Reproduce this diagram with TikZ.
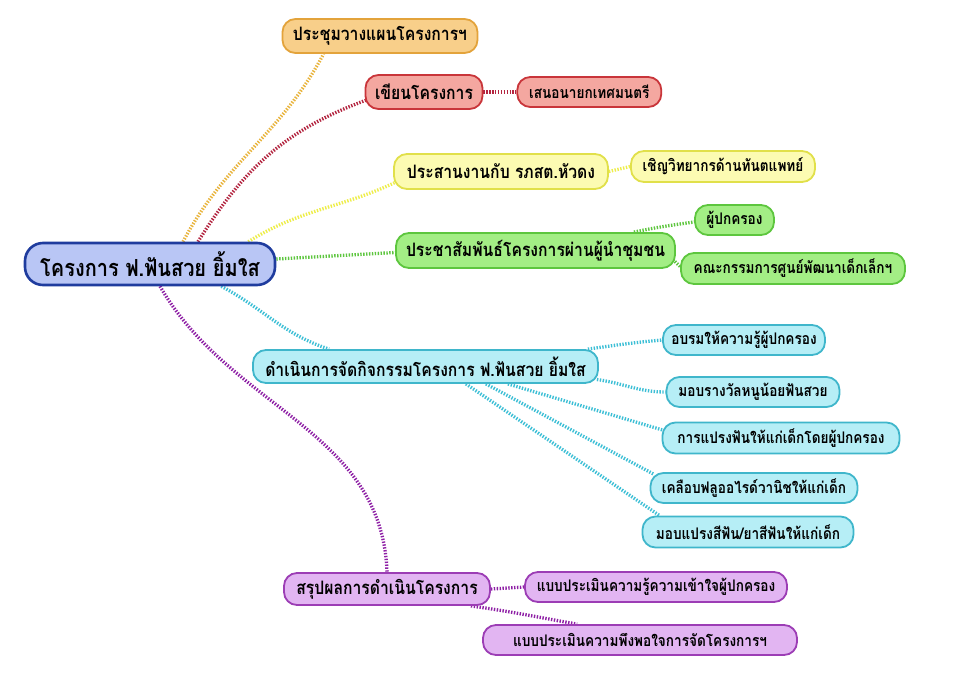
\documentclass[tikz,border=0pt]{standalone}
\usepackage{fontspec}
\setmainfont[Script=Thai,FakeStretch=0.85]{Loma}
\usetikzlibrary{positioning,calc,backgrounds}

\definecolor{bluefill}{HTML}{B9C6F5}\definecolor{blueline}{HTML}{1F3C9E}
\definecolor{orngfill}{HTML}{F8CF8A}\definecolor{orngline}{HTML}{E3A33B}\definecolor{orngdot}{HTML}{E9B43C}
\definecolor{redfill}{HTML}{F4A7A0}\definecolor{redline}{HTML}{C9353A}\definecolor{reddot}{HTML}{B3243F}
\definecolor{yelfill}{HTML}{FCFBB2}\definecolor{yelline}{HTML}{E1E04A}\definecolor{yeldot}{HTML}{EEEE4A}
\definecolor{grnfill}{HTML}{A3EE85}\definecolor{grnline}{HTML}{5DC63E}\definecolor{grndot}{HTML}{5DC63E}
\definecolor{cyanfill}{HTML}{B6EEF6}\definecolor{cyanline}{HTML}{3FB6CB}\definecolor{cyandot}{HTML}{3CBFD6}
\definecolor{purpfill}{HTML}{E2B5F2}\definecolor{purpline}{HTML}{9C3DB5}\definecolor{purpdot}{HTML}{8E1FA5}

\begin{document}
\begin{tikzpicture}[x=1pt,y=1pt,
  every node/.append style={draw,rounded corners=13pt,line width=1.8pt,inner sep=0pt},
  big/.style={minimum height=34pt,font=\bfseries\fontsize{18.5}{20}\selectfont},
  small/.style={minimum height=30pt,font=\bfseries\fontsize{16}{18}\selectfont},
  tone/.style={fill=#1fill,draw=#1line},
  link/.style={line width=3.3pt,dash pattern=on 1.4pt off 1.5pt,draw=#1dot}]
\useasboundingbox (0,0) rectangle (960,-675);

\node[tone=blue,line width=2.6pt,rounded corners=18pt,minimum width=250pt,minimum height=42pt,
  font=\bfseries\fontsize{23.5}{26}\selectfont] (root) at (150,-264) {โครงการ ฟ.ฟันสวย ยิ้มใส};

\node[big,tone=orng,minimum width=195pt] (plan) at (380,-36) {ประชุมวางแผนโครงการฯ};
\node[big,tone=red,minimum width=117pt] (write) at (424,-92) {เขียนโครงการ};
\node[small,tone=red,minimum width=144pt,right=33pt of write] (propose) {เสนอนายกเทศมนตรี};
\node[big,tone=yel,minimum width=214pt,minimum height=35pt] (coord) at (501,-171.5) {ประสานงานกับ รภสต.หัวดง};
\node[small,tone=yel,minimum width=184pt,minimum height=31pt] (invite) at (723,-166.5) {เชิญวิทยากรด้านทันตแพทย์};
\node[big,tone=grn,minimum width=279pt,minimum height=35pt] (pr) at (535.5,-250.5) {ประชาสัมพันธ์โครงการผ่านผู้นำชุมชน};
\node[small,tone=grn,minimum width=79pt] (parent) at (734.5,-220) {ผู้ปกครอง};
\node[small,tone=grn,minimum width=224pt,minimum height=31pt] (committee) at (793,-268.5) {คณะกรรมการศูนย์พัฒนาเด็กเล็กฯ};

\node[big,tone=cyan,minimum width=345pt,minimum height=33pt] (act) at (425.5,-366.5) {ดำเนินการจัดกิจกรรมโครงการ ฟ.ฟันสวย ยิ้มใส};
\node[small,tone=cyan,minimum width=162pt] (train) at (744,-340) {อบรมให้ความรู้ผู้ปกครอง};
\node[small,tone=cyan,minimum width=173pt] (award) at (753,-392) {มอบรางวัลหนูน้อยฟันสวย};
\node[small,tone=cyan,minimum width=237pt,minimum height=31pt] (brush) at (781,-438) {การแปรงฟันให้แก่เด็กโดยผู้ปกครอง};
\node[small,tone=cyan,minimum width=207pt] (fluor) at (754,-488) {เคลือบฟลูออไรด์วานิชให้แก่เด็ก};
\node[small,tone=cyan,minimum width=211pt,minimum height=31pt] (give) at (748,-532) {มอบแปรงสีฟัน/ยาสีฟันให้แก่เด็ก};

\node[big,tone=purp,minimum width=206pt,minimum height=32pt] (sum) at (387,-589) {สรุปผลการดำเนินโครงการ};
\node[small,tone=purp,minimum width=262pt] (evalk) at (656,-587) {แบบประเมินความรู้ความเข้าใจผู้ปกครอง};
\node[small,tone=purp,minimum width=314pt] (evals) at (640,-640) {แบบประเมินความพึงพอใจการจัดโครงการฯ};

\begin{pgfonlayer}{background}
\fill[white] (0,0) rectangle (960,-675);
% branches from the root
\draw[link=orng] ($(root.north)+(33,0)$) to[out=62,in=-118] ($(plan.south west)+(42,0)$);
\draw[link=red] ($(root.north)+(48,0)$) to[out=58,in=200] ($(write.west)+(2,-8)$);
\draw[link=yel] ($(root.north east)+(-28,0)$) to[out=32,in=205] ($(coord.west)+(2,-11)$);
\draw[link=grn] ($(root.east)+(0,5)$) -- ($(pr.west)+(0,-2)$);
\draw[link=cyan] ($(root.south east)+(-55,0)$) to[out=-28,in=162] ($(act.north west)+(77,0)$);
\draw[link=purp] ($(root.south)+(10,0)$) to[out=-60,in=92] (sum.north);
% leaves
\draw[link=red] (write.east) -- (propose.west);
\draw[link=yel] (coord.east) -- (invite.west);
\draw[link=grn] ($(pr.north east)+(-42,0)$) to[out=12,in=188] ($(parent.west)+(0,-2)$);
\draw[link=grn] ($(pr.east)+(-1,-11)$) -- ($(committee.west)+(0,2)$);
\draw[link=cyan] ($(act.north east)+(-11,0)$) to[out=8,in=185] (train.west);
\draw[link=cyan] ($(act.east)+(-2,-13)$) to[out=-8,in=180] (award.west);
\foreach \n/\d/\a/\dx/\dy in {brush/91/west/1/8, fluor/113/north west/4/-2, give/133/north west/18/0}
  \draw[link=cyan] ($(act.south east)+(-\d,0)$) -- ($(\n.\a)+(\dx,\dy)$);
\draw[link=purp] (sum.east) -- (evalk.west);
\draw[link=purp] ($(sum.south east)+(-20,0)$) to[out=-8,in=170] ($(evals.north west)+(95,0)$);
\end{pgfonlayer}
\end{tikzpicture}
\end{document}
